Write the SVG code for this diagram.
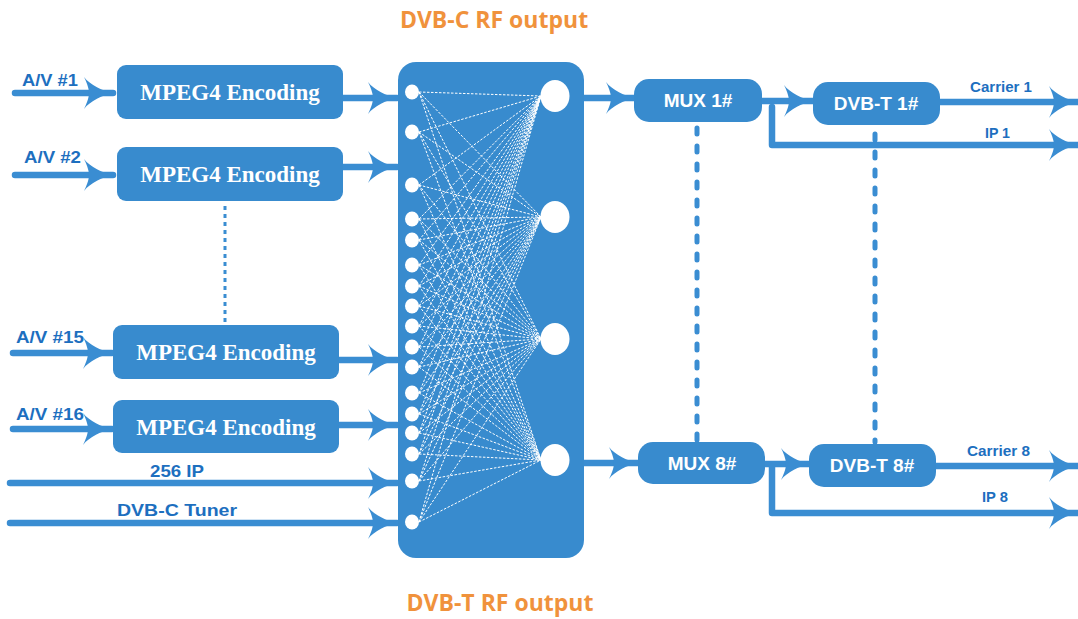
<svg xmlns="http://www.w3.org/2000/svg" width="1078" height="619" viewBox="0 0 1078 619">
<style>
.box{fill:#388bce}
.enc{font-family:"Liberation Serif",serif;font-weight:bold;font-size:23px;fill:#fff;text-anchor:middle}
.wt{font-family:"Liberation Sans",Arial,sans-serif;font-weight:bold;font-size:19px;fill:#fff;text-anchor:middle}
.lbl{font-family:"Liberation Sans",Arial,sans-serif;font-weight:bold;font-size:17px;fill:#1d6fbf}
.sm{font-family:"Liberation Sans",Arial,sans-serif;font-weight:bold;font-size:14px;fill:#1d6fbf}
.ttl{font-family:"Open Sans",sans-serif;font-weight:bold;font-size:23px;fill:#f0923c;text-anchor:middle}
.ln{fill:none;stroke:#3a8dd2;stroke-width:6.5;stroke-linecap:round;stroke-linejoin:round;marker-end:url(#ah)}
.dot{fill:none;stroke:#3a8dd2;stroke-width:5;stroke-linecap:round;stroke-dasharray:6 12}
.dot2{fill:none;stroke:#3a8dd2;stroke-width:3;stroke-dasharray:4 4}
.mesh{fill:none;stroke:#fff;stroke-width:1;stroke-dasharray:2.5 1.5}
</style>
<defs>
<marker id="ah" markerUnits="userSpaceOnUse" viewBox="-32 -17 34 34" refX="0" refY="0" markerWidth="34" markerHeight="34" orient="auto">
<path d="M0,0 C-10,-2 -23,-8 -29,-16 C-25,-8 -24,-3 -24,0 C-24,3 -25,8 -29,16 C-23,8 -10,2 0,0 Z" fill="#3a8dd2"/>
</marker>
</defs>
<rect width="1078" height="619" fill="#fff"/>
<text class="ttl" x="494" y="28">DVB-C RF output</text>
<text class="ttl" x="500" y="611">DVB-T RF output</text>

<g id="connectors">
<path class="ln" d="M15,93 H113"/>
<path class="ln" d="M15,175 H113"/>
<path class="ln" d="M13,353 H112"/>
<path class="ln" d="M13,429 H112"/>
<path class="ln" d="M343,98 H397"/>
<path class="ln" d="M343,167 H397"/>
<path class="ln" d="M339,360 H397"/>
<path class="ln" d="M339,425 H397"/>
<path class="ln" d="M10,483 H397"/>
<path class="ln" d="M10,523 H397"/>
<path class="ln" d="M580,98 H635"/>
<path class="ln" d="M760,101 H813"/>
<path class="ln" d="M938,102 H1078"/>
<path class="ln" d="M772,107 V145 H1078"/>
<path class="ln" d="M580,463 H638"/>
<path class="ln" d="M763,464 H810"/>
<path class="ln" d="M934,466 H1078"/>
<path class="ln" d="M772,467 V513 H1078"/>
<path class="dot2" d="M225,206 V323"/>
<path class="dot" d="M697,128 V440"/>
<path class="dot" d="M875,134 V442"/>
<text class="lbl" x="22" y="86" textLength="56" lengthAdjust="spacingAndGlyphs">A/V #1</text>
<text class="lbl" x="24" y="163" textLength="57" lengthAdjust="spacingAndGlyphs">A/V #2</text>
<text class="lbl" x="16" y="343" textLength="68" lengthAdjust="spacingAndGlyphs">A/V #15</text>
<text class="lbl" x="16" y="420" textLength="68" lengthAdjust="spacingAndGlyphs">A/V #16</text>
<text class="lbl" x="150" y="477" textLength="54" lengthAdjust="spacingAndGlyphs">256 IP</text>
<text class="lbl" x="117" y="516" textLength="120" lengthAdjust="spacingAndGlyphs">DVB-C Tuner</text>
<text class="sm" x="970" y="92" textLength="62" lengthAdjust="spacingAndGlyphs">Carrier 1</text>
<text class="sm" x="985" y="138" textLength="25" lengthAdjust="spacingAndGlyphs">IP 1</text>
<text class="sm" x="967" y="456" textLength="63" lengthAdjust="spacingAndGlyphs">Carrier 8</text>
<text class="sm" x="982" y="502" textLength="26" lengthAdjust="spacingAndGlyphs">IP 8</text>
</g>

<g id="enc1"><rect class="box" x="117" y="65" width="226" height="54" rx="9"/><text class="enc" x="230" y="100">MPEG4 Encoding</text></g>
<g id="enc2"><rect class="box" x="117" y="147" width="226" height="54" rx="9"/><text class="enc" x="230" y="182">MPEG4 Encoding</text></g>
<g id="enc15"><rect class="box" x="113" y="325" width="226" height="54" rx="9"/><text class="enc" x="226" y="360">MPEG4 Encoding</text></g>
<g id="enc16"><rect class="box" x="113" y="400" width="226" height="53" rx="9"/><text class="enc" x="226" y="435">MPEG4 Encoding</text></g>

<g id="matrix">
<rect class="box" x="398" y="62" width="186" height="496" rx="18"/>
<path class="mesh" d="M419,92 L541,96 M419,92 L541,217 M419,92 L541,339 M419,92 L541,460
M419,132 L541,96 M419,132 L541,217 M419,132 L541,339 M419,132 L541,460
M419,185 L541,96 M419,185 L541,217 M419,185 L541,339 M419,185 L541,460
M419,219 L541,96 M419,219 L541,217 M419,219 L541,339 M419,219 L541,460
M419,240 L541,96 M419,240 L541,217 M419,240 L541,339 M419,240 L541,460
M419,265 L541,96 M419,265 L541,217 M419,265 L541,339 M419,265 L541,460
M419,286 L541,96 M419,286 L541,217 M419,286 L541,339 M419,286 L541,460
M419,306 L541,96 M419,306 L541,217 M419,306 L541,339 M419,306 L541,460
M419,326 L541,96 M419,326 L541,217 M419,326 L541,339 M419,326 L541,460
M419,347 L541,96 M419,347 L541,217 M419,347 L541,339 M419,347 L541,460
M419,367 L541,96 M419,367 L541,217 M419,367 L541,339 M419,367 L541,460
M419,393 L541,96 M419,393 L541,217 M419,393 L541,339 M419,393 L541,460
M419,414 L541,96 M419,414 L541,217 M419,414 L541,339 M419,414 L541,460
M419,433 L541,96 M419,433 L541,217 M419,433 L541,339 M419,433 L541,460
M419,454 L541,96 M419,454 L541,217 M419,454 L541,339 M419,454 L541,460
M419,481 L541,96 M419,481 L541,217 M419,481 L541,339 M419,481 L541,460
M419,522 L541,96 M419,522 L541,217 M419,522 L541,339 M419,522 L541,460"/>
<g fill="#fff">
<ellipse cx="412" cy="92" rx="7" ry="7.5"/><ellipse cx="412" cy="132" rx="7" ry="7.5"/><ellipse cx="412" cy="185" rx="7" ry="7.5"/><ellipse cx="412" cy="219" rx="7" ry="7.5"/><ellipse cx="412" cy="240" rx="7" ry="7.5"/><ellipse cx="412" cy="265" rx="7" ry="7.5"/><ellipse cx="412" cy="286" rx="7" ry="7.5"/><ellipse cx="412" cy="306" rx="7" ry="7.5"/><ellipse cx="412" cy="326" rx="7" ry="7.5"/><ellipse cx="412" cy="347" rx="7" ry="7.5"/><ellipse cx="412" cy="367" rx="7" ry="7.5"/><ellipse cx="412" cy="393" rx="7" ry="7.5"/><ellipse cx="412" cy="414" rx="7" ry="7.5"/><ellipse cx="412" cy="433" rx="7" ry="7.5"/><ellipse cx="412" cy="454" rx="7" ry="7.5"/><ellipse cx="412" cy="481" rx="7" ry="7.5"/><ellipse cx="412" cy="522" rx="7" ry="7.5"/>
<ellipse cx="555" cy="96" rx="14.5" ry="16"/><ellipse cx="555" cy="217" rx="14.5" ry="16"/><ellipse cx="555" cy="339" rx="14.5" ry="16"/><ellipse cx="555" cy="460" rx="14.5" ry="16"/>
</g>
</g>

<g id="mux1"><rect class="box" x="634" y="79" width="128" height="43" rx="15"/><text class="wt" x="698" y="107">MUX 1#</text></g>
<g id="dvbt1"><rect class="box" x="813" y="82" width="127" height="43" rx="15"/><text class="wt" x="876" y="110">DVB-T 1#</text></g>
<g id="mux8"><rect class="box" x="638" y="442" width="127" height="42" rx="15"/><text class="wt" x="702" y="470">MUX 8#</text></g>
<g id="dvbt8"><rect class="box" x="809" y="444" width="127" height="43" rx="15"/><text class="wt" x="872" y="472">DVB-T 8#</text></g>
</svg>
